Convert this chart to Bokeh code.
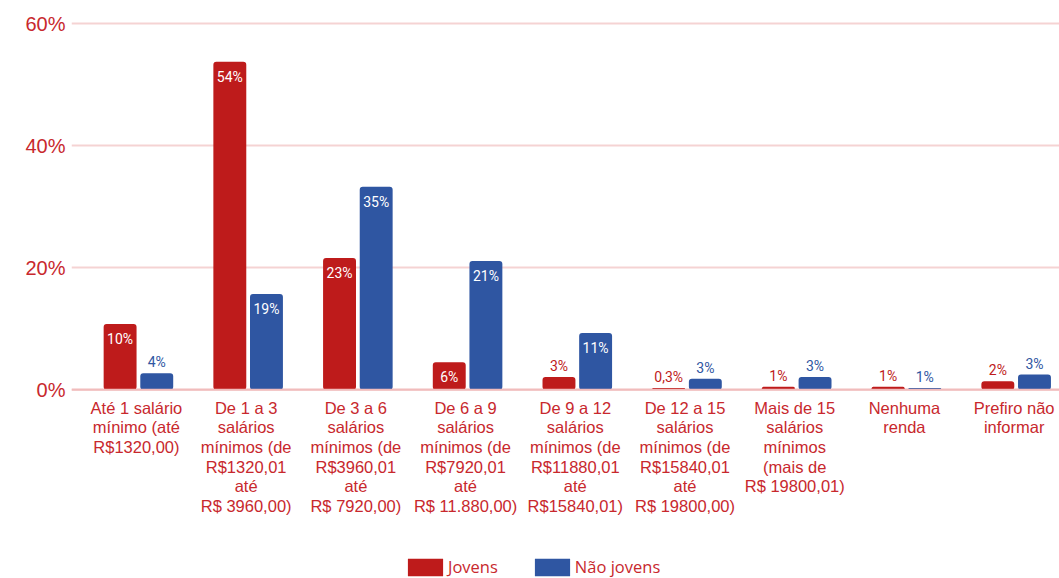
from bokeh.plotting import figure
from bokeh.models import FixedTicker, Legend, LegendItem, ColumnDataSource, Range1d, Span
from bokeh.core.properties import value
from bokeh.embed import file_html
from bokeh.resources import INLINE

categories = [
    "Até 1 salário\nmínimo (até\nR$1320,00)",
    "De 1 a 3\nsalários\nmínimos (de\nR$1320,01\naté\nR$ 3960,00)",
    "De 3 a 6\nsalários\nmínimos (de\nR$3960,01\naté\nR$ 7920,00)",
    "De 6 a 9\nsalários\nmínimos (de\nR$7920,01\naté\nR$ 11.880,00)",
    "De 9 a 12\nsalários\nmínimos (de\nR$11880,01\naté\nR$15840,01)",
    "De 12 a 15\nsalários\nmínimos (de\nR$15840,01\naté\nR$ 19800,00)",
    "Mais de 15\nsalários\nmínimos\n(mais de\nR$ 19800,01)",
    "Nenhuma\nrenda",
    "Prefiro não\ninformar",
]
jovens = [10.8, 53.8, 21.6, 4.5, 2.1, 0.3, 0.5, 0.5, 1.4]
nao_jovens = [2.7, 15.7, 33.3, 21.1, 9.3, 1.8, 2.1, 0.3, 2.5]
jovens_labels = ["10%", "54%", "23%", "6%", "3%", "0,3%", "1%", "1%", "2%"]
nao_jovens_labels = ["4%", "19%", "35%", "21%", "11%", "3%", "3%", "1%", "3%"]
y_ticks = [0, 20, 40, 60]
series_names = ["Jovens", "Não jovens"]

RED = "#be1b1b"
BLUE = "#2f56a2"
TXT = "#c8282d"
GRID = "#f5d3d3"

W, H = 1059, 578
p = figure(width=W, height=H, output_backend="svg", toolbar_location=None,
           x_range=Range1d(-0.61, 8.395), y_range=Range1d(-30.93, 61.2),
           min_border_left=71, min_border_right=0, min_border_top=16, min_border_bottom=0)
p.outline_line_color = None
p.background_fill_color = "white"

xs = list(range(len(categories)))
off = 0.167
bw = 0.30
src_j = ColumnDataSource(dict(x=[i - off for i in xs], top=jovens, lab=jovens_labels))
src_n = ColumnDataSource(dict(x=[i + off for i in xs], top=nao_jovens, lab=nao_jovens_labels))

p.ygrid.ticker = FixedTicker(ticks=y_ticks)
p.ygrid.grid_line_color = GRID
p.ygrid.grid_line_width = 2
p.xgrid.grid_line_color = None

p.add_layout(Span(location=0, dimension="width", line_color="#f1bcbc", line_width=2))

rj = p.vbar(x="x", top="top", bottom=0, width=bw, source=src_j, fill_color=RED, line_color=None,
            border_radius=3)
rn = p.vbar(x="x", top="top", bottom=0, width=bw, source=src_n, fill_color=BLUE, line_color=None,
            border_radius=3)

THR = 4.0
def split(xv, tops, labs):
    ins = dict(x=[], y=[], t=[])
    out = dict(x=[], y=[], t=[])
    for a, b, c in zip(xv, tops, labs):
        d = ins if b > THR else out
        d["x"].append(a); d["y"].append(b); d["t"].append(c)
    return ins, out

for xv, tops, labs, col in [([i - off for i in xs], jovens, jovens_labels, RED),
                            ([i + off for i in xs], nao_jovens, nao_jovens_labels, BLUE)]:
    ins, out = split(xv, tops, labs)
    p.text(x="x", y="y", text="t", source=ColumnDataSource(ins), text_align="center",
           text_baseline="top", y_offset=7, text_color="white",
           text_font=value("Roboto"), text_font_size="14px")
    p.text(x="x", y="y", text="t", source=ColumnDataSource(out), text_align="center",
           text_baseline="bottom", y_offset=-3, text_color=col,
           text_font=value("Roboto"), text_font_size="14px")

# category labels below the baseline
p.text(x=xs, y=[0] * len(xs), text=categories, text_align="center", text_baseline="top",
       x_offset=-2, y_offset=9, text_color=TXT, text_font=value("Liberation Sans"),
       text_font_size="16.5px", text_line_height=1.09)

# y axis
p.yaxis.ticker = FixedTicker(ticks=y_ticks)
p.yaxis.major_label_overrides = {t: f"{t}%" for t in y_ticks}
p.yaxis.axis_line_color = None
p.yaxis.major_tick_line_color = None
p.yaxis.minor_tick_line_color = None
p.yaxis.major_tick_out = 0
p.yaxis.major_tick_in = 0
p.yaxis.major_label_text_font = "Liberation Sans"
p.yaxis.major_label_text_font_size = "20px"
p.yaxis.major_label_text_color = TXT
p.yaxis.major_label_standoff = 6

p.xaxis.visible = False

legend = Legend(items=[LegendItem(label=series_names[0], renderers=[rj]),
                       LegendItem(label=series_names[1], renderers=[rn])],
                orientation="horizontal", location=(332, 0),
                label_text_font="Open Sans", label_text_font_size="16.5px", label_text_color=TXT,
                glyph_width=44, glyph_height=22, label_standoff=1, spacing=32,
                border_line_color=None, background_fill_alpha=0, margin=0, padding=0)
p.add_layout(legend, "center")

open("out.html", "w").write(file_html(p, INLINE))
